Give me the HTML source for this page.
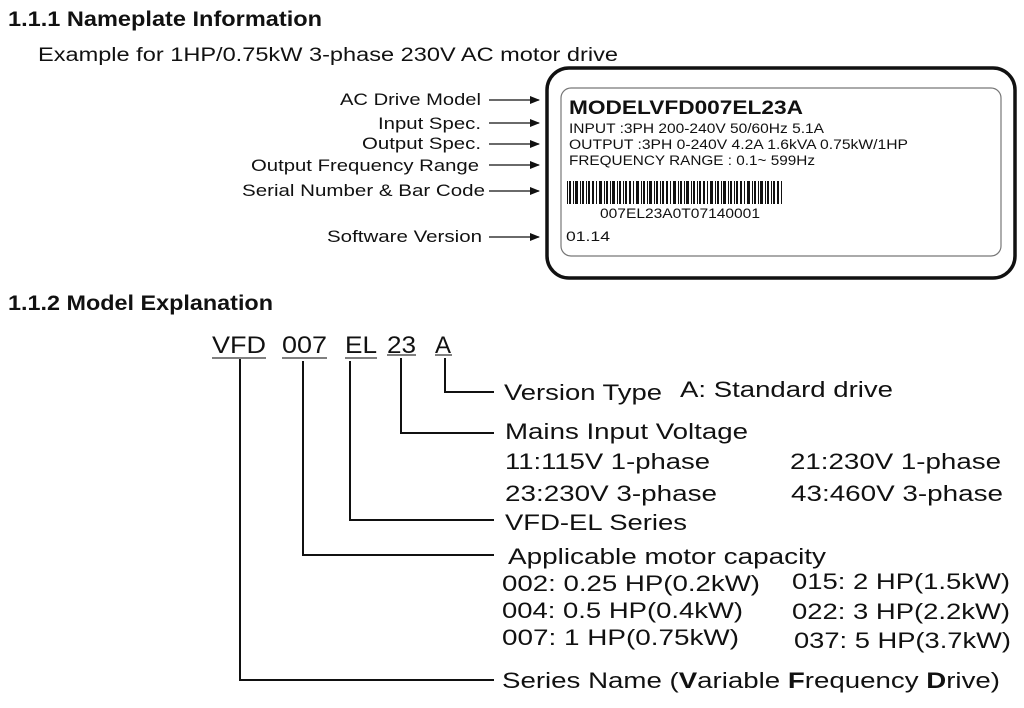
<!DOCTYPE html>
<html><head><meta charset="utf-8"><style>
html,body{margin:0;padding:0;background:#fff;}
svg{display:block;font-family:"Liberation Sans",Arial,sans-serif;}
</style></head><body>
<svg width="1024" height="708" viewBox="0 0 1024 708" xmlns="http://www.w3.org/2000/svg">
<defs>
<marker id="ar" markerWidth="10" markerHeight="8" refX="9" refY="4" orient="auto" markerUnits="userSpaceOnUse">
<path d="M0,0 L10,4 L0,8 z" fill="#111"/></marker>
<pattern id="bc" width="37" height="30" patternUnits="userSpaceOnUse">
<rect x="0" y="0" width="2" height="30" fill="#111"/><rect x="4" y="0" width="1" height="30" fill="#111"/>
<rect x="7" y="0" width="3" height="30" fill="#111"/><rect x="12" y="0" width="1" height="30" fill="#111"/>
<rect x="14" y="0" width="2" height="30" fill="#111"/><rect x="18" y="0" width="1" height="30" fill="#111"/>
<rect x="20" y="0" width="3" height="30" fill="#111"/><rect x="25" y="0" width="1" height="30" fill="#111"/>
<rect x="27" y="0" width="2" height="30" fill="#111"/><rect x="31" y="0" width="1" height="30" fill="#111"/>
<rect x="33" y="0" width="2" height="30" fill="#111"/>
</pattern>
</defs>
<g fill="#111" lengthAdjust="spacingAndGlyphs">
<text x="8" y="26" font-size="21" font-weight="bold" textLength="314" lengthAdjust="spacingAndGlyphs">1.1.1 Nameplate Information</text>
<text x="38" y="61" font-size="19" textLength="580" lengthAdjust="spacingAndGlyphs">Example for 1HP/0.75kW 3-phase 230V AC motor drive</text>
<g font-size="17">
<text x="340" y="105" textLength="141" lengthAdjust="spacingAndGlyphs">AC Drive Model</text>
<text x="378" y="129" textLength="103" lengthAdjust="spacingAndGlyphs">Input Spec.</text>
<text x="362" y="149" textLength="119" lengthAdjust="spacingAndGlyphs">Output Spec.</text>
<text x="251" y="171" textLength="228" lengthAdjust="spacingAndGlyphs">Output Frequency Range</text>
<text x="242" y="196" textLength="243" lengthAdjust="spacingAndGlyphs">Serial Number  &amp; Bar Code</text>
<text x="327" y="242" textLength="155" lengthAdjust="spacingAndGlyphs">Software Version</text>
</g>
</g>
<g stroke="#111" stroke-width="1.3" marker-end="url(#ar)">
<line x1="489" y1="100" x2="539" y2="100"/><line x1="489" y1="123" x2="539" y2="123"/>
<line x1="489" y1="144" x2="539" y2="144"/><line x1="489" y1="165" x2="539" y2="165"/>
<line x1="489" y1="191" x2="539" y2="191"/><line x1="489" y1="237" x2="539" y2="237"/>
</g>
<rect x="547" y="68" width="468" height="210" rx="22" fill="none" stroke="#111" stroke-width="3.5"/>
<rect x="561" y="88" width="440" height="168" rx="10" fill="none" stroke="#777" stroke-width="1.2"/>
<g fill="#111">
<text x="569" y="114" font-size="19" font-weight="bold" textLength="234" lengthAdjust="spacingAndGlyphs">MODELVFD007EL23A</text>
<g font-size="13.5">
<text x="569" y="133" textLength="255" lengthAdjust="spacingAndGlyphs">INPUT :3PH 200-240V 50/60Hz 5.1A</text>
<text x="569" y="149" textLength="339" lengthAdjust="spacingAndGlyphs">OUTPUT :3PH 0-240V 4.2A 1.6kVA  0.75kW/1HP</text>
<text x="569" y="165" textLength="246" lengthAdjust="spacingAndGlyphs">FREQUENCY RANGE : 0.1~ 599Hz</text>
<text x="600" y="218" textLength="160" lengthAdjust="spacingAndGlyphs">007EL23A0T07140001</text>
</g>
<text x="566" y="241" font-size="14" textLength="44" lengthAdjust="spacingAndGlyphs">01.14</text>
</g>
<rect x="567" y="181" width="216" height="23" fill="url(#bc)"/>
<text x="8" y="310" font-size="21" font-weight="bold" fill="#111" textLength="265" lengthAdjust="spacingAndGlyphs">1.1.2 Model Explanation</text>
<g fill="#111" font-size="24">
<text x="212" y="353" textLength="54" lengthAdjust="spacingAndGlyphs">VFD</text><text x="282" y="353" textLength="45" lengthAdjust="spacingAndGlyphs">007</text><text x="345" y="353" textLength="32" lengthAdjust="spacingAndGlyphs">EL</text>
<text x="387" y="353" textLength="29" lengthAdjust="spacingAndGlyphs">23</text><text x="435" y="353">A</text>
</g>
<g stroke="#333" stroke-width="1.2">
<line x1="212" y1="358" x2="266" y2="358"/><line x1="282" y1="358" x2="327" y2="358"/>
<line x1="345" y1="358" x2="377" y2="358"/><line x1="387" y1="355" x2="416" y2="355"/>
<line x1="435" y1="355" x2="452" y2="355"/>
</g>
<g stroke="#111" stroke-width="2" fill="none">
<path d="M240,359 V680 H494"/><path d="M303,361 V555 H494"/>
<path d="M350,361 V520 H494"/><path d="M401,358 V433 H494"/>
<path d="M445,358 V392 H494"/>
</g>
<g fill="#111" font-size="22">
<text x="504" y="400" textLength="158" lengthAdjust="spacingAndGlyphs">Version Type</text><text x="680" y="397" textLength="213" lengthAdjust="spacingAndGlyphs">A: Standard drive</text>
<text x="505" y="439" textLength="243" lengthAdjust="spacingAndGlyphs">Mains Input Voltage</text>
<text x="505" y="469" textLength="205" lengthAdjust="spacingAndGlyphs">11:115V 1-phase</text><text x="790" y="469" textLength="211" lengthAdjust="spacingAndGlyphs">21:230V 1-phase</text>
<text x="505" y="501" textLength="212" lengthAdjust="spacingAndGlyphs">23:230V 3-phase</text><text x="791" y="501" textLength="212" lengthAdjust="spacingAndGlyphs">43:460V 3-phase</text>
<text x="505" y="530" textLength="182" lengthAdjust="spacingAndGlyphs">VFD-EL Series</text>
<text x="508" y="564" textLength="318" lengthAdjust="spacingAndGlyphs">Applicable motor capacity</text>
<text x="502" y="591" textLength="258" lengthAdjust="spacingAndGlyphs">002: 0.25 HP(0.2kW)</text><text x="792" y="589" textLength="218" lengthAdjust="spacingAndGlyphs">015: 2 HP(1.5kW)</text>
<text x="502" y="618" textLength="241" lengthAdjust="spacingAndGlyphs">004: 0.5 HP(0.4kW)</text><text x="792" y="619" textLength="218" lengthAdjust="spacingAndGlyphs">022: 3 HP(2.2kW)</text>
<text x="502" y="645" textLength="237" lengthAdjust="spacingAndGlyphs">007: 1 HP(0.75kW)</text><text x="794" y="648" textLength="217" lengthAdjust="spacingAndGlyphs">037: 5 HP(3.7kW)</text>
<text x="502" y="688" textLength="498" lengthAdjust="spacingAndGlyphs">Series Name (<tspan font-weight="bold">V</tspan>ariable <tspan font-weight="bold">F</tspan>requency <tspan font-weight="bold">D</tspan>rive)</text>
</g>
</svg>
</body></html>
